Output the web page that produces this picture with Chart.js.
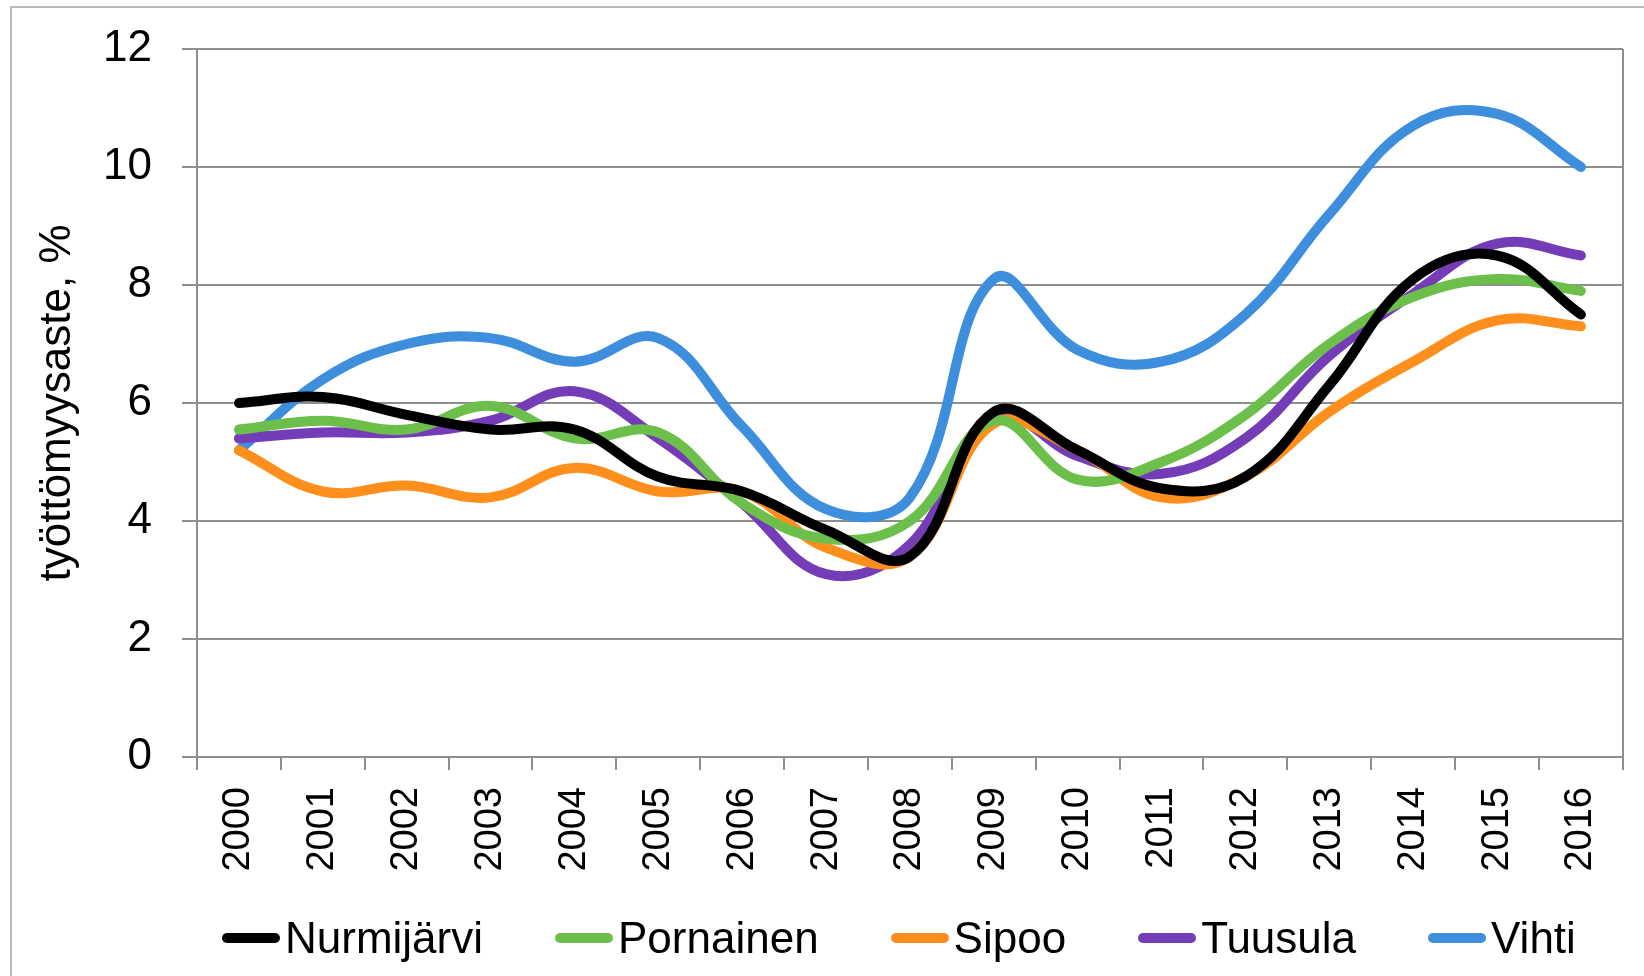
<!DOCTYPE html>
<html lang="fi">
<head>
    <meta charset="UTF-8">
    <title>Työttömyysaste</title>
    <style>
        html, body { margin: 0; padding: 0; background: #fff; }
        #wrap { position: relative; width: 1644px; height: 976px; overflow: hidden; }
        #frame {
            position: absolute; left: 10px; top: 6px; right: -10px; bottom: -10px;
            border-left: 2px solid #b9b9b9; border-top: 2px solid #b9b9b9;
        }
        #legend {
            position: absolute; left: 222px; top: 912px; height: 52px;
            display: flex; align-items: center;
            font-family: "Liberation Sans", Arial, sans-serif; font-size: 44px; color: #000;
        }
        #legend .item { display: flex; align-items: center; margin-right: 72px; }
        #legend .swatch { width: 58px; height: 10px; border-radius: 5px; margin-right: 5px; }
        canvas { position: absolute; left: 0; top: 0; }
    </style>
</head>
<body>
<div id="wrap">
    <div id="frame"></div>
    <canvas id="chart" width="1644" height="976"></canvas>
    <div id="legend"></div>
</div>

<script src="https://cdn.jsdelivr.net/npm/chart.js"></script>
<script>
    // vuodet
    const vuodet = ['2000', '2001', '2002', '2003', '2004', '2005', '2006', '2007', '2008',
                    '2009', '2010', '2011', '2012', '2013', '2014', '2015', '2016'];

    // työttömyysaste, %
    const nurmijarvi = [6.0, 6.1, 5.8, 5.55, 5.55, 4.75, 4.5, 3.85, 3.4, 5.85, 5.2, 4.55, 4.75, 6.3, 8.1, 8.5, 7.5];
    const pornainen  = [5.55, 5.7, 5.55, 5.95, 5.4, 5.5, 4.3, 3.7, 4.0, 5.7, 4.7, 5.0, 5.8, 7.0, 7.8, 8.1, 7.9];
    const sipoo      = [5.2, 4.5, 4.6, 4.4, 4.9, 4.5, 4.5, 3.55, 3.4, 5.65, 5.2, 4.4, 4.75, 5.85, 6.7, 7.4, 7.3];
    const tuusula    = [5.4, 5.5, 5.5, 5.7, 6.2, 5.4, 4.3, 3.1, 3.6, 5.8, 5.1, 4.8, 5.4, 6.8, 7.85, 8.7, 8.5];
    const vihti      = [5.2, 6.4, 7.0, 7.1, 6.7, 7.1, 5.6, 4.2, 4.4, 8.1, 6.9, 6.7, 7.5, 9.2, 10.7, 10.9, 10.0];

    const yTicks = [0, 2, 4, 6, 8, 10, 12];

    const sarjat = [
        { nimi: 'Nurmijärvi', data: nurmijarvi, vari: '#000000' },
        { nimi: 'Pornainen',  data: pornainen,  vari: '#6bbf4a' },
        { nimi: 'Sipoo',      data: sipoo,      vari: '#ff8f1c' },
        { nimi: 'Tuusula',    data: tuusula,    vari: '#753cb8' },
        { nimi: 'Vihti',      data: vihti,      vari: '#3e8ede' }
    ];

    const fontti = '"Liberation Sans", Arial, sans-serif';
    const ruudukko = '#8e8e8e';

    const ctx = document.getElementById('chart').getContext('2d');
    new Chart(ctx, {
        type: 'line',
        data: {
            labels: vuodet,
            datasets: sarjat.map(s => ({
                label: s.nimi,
                data: s.data,
                borderColor: s.vari,
                backgroundColor: s.vari,
                borderWidth: 10,
                borderCapStyle: 'round',
                borderJoinStyle: 'round',
                tension: 0.4,
                pointRadius: 0,
                fill: false
            }))
        },
        options: {
            responsive: false,
            animation: false,
            devicePixelRatio: 1,
            layout: { padding: { top: 49, right: 17, bottom: 0, left: 0 } },
            plugins: {
                legend: { display: false },
                tooltip: { enabled: false }
            },
            scales: {
                x: {
                    offset: true,
                    grid: {
                        offset: true,
                        // vain oikea reunaviiva näkyviin, muuten pelkät tikit
                        color: c => c.type === 'scale' ? ruudukko : 'transparent',
                        tickColor: ruudukko,
                        lineWidth: 2,
                        tickLength: 13
                    },
                    border: { color: ruudukko, width: 2 },
                    ticks: {
                        autoSkip: false,
                        minRotation: 90,
                        maxRotation: 90,
                        padding: 17,
                        color: '#000',
                        font: { family: fontti, size: 38 }
                    },
                    afterFit: scale => { scale.height = 219; }
                },
                y: {
                    min: 0,
                    max: 12,
                    afterBuildTicks: scale => { scale.ticks = yTicks.map(v => ({ value: v })); },
                    grid: { color: ruudukko, lineWidth: 2, tickLength: 15 },
                    border: { color: ruudukko, width: 2 },
                    ticks: {
                        padding: 30,
                        color: '#000',
                        font: { family: fontti, size: 44 }
                    },
                    title: {
                        display: true,
                        text: 'työttömyysaste, %',
                        color: '#000',
                        font: { family: fontti, size: 44 },
                        padding: { top: 31, bottom: 0 }
                    },
                    afterFit: scale => {
                        scale.width = 197;
                        scale.paddingTop = 0;
                        scale.paddingBottom = 0;
                    }
                }
            }
        }
    });

    // selite
    const selite = document.getElementById('legend');
    selite.innerHTML = sarjat.map(s => `
        <div class="item">
            <span class="swatch" style="background:${s.vari}"></span>
            <span>${s.nimi}</span>
        </div>
    `).join('');
</script>
</body>
</html>
